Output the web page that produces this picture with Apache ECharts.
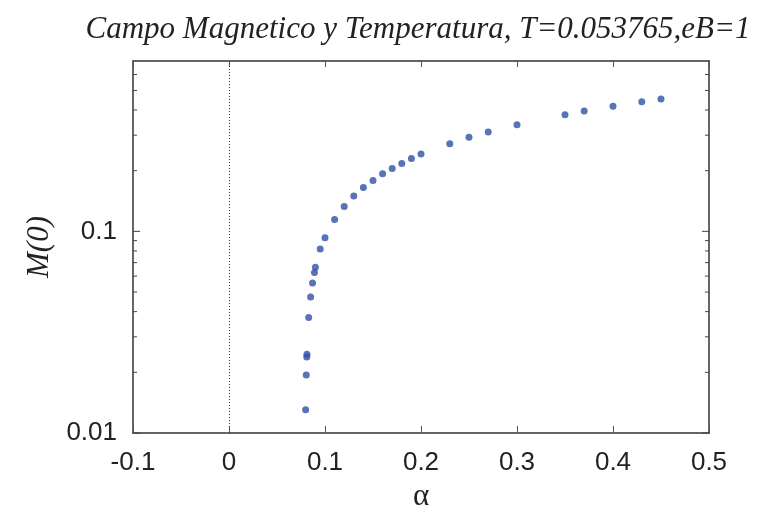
<!DOCTYPE html>
<html>
<head>
<meta charset="utf-8">
<script src="https://cdn.jsdelivr.net/npm/echarts@6/dist/echarts.min.js"></script>
<style>
  html, body { margin: 0; padding: 0; background: #fff; }
  #main { width: 761px; height: 514px; }
</style>
</head>
<body>
<div id="main"></div>
<script>
// alpha values and M(0)
var alphaVals = [0.0798, 0.0805, 0.081, 0.0812, 0.083, 0.085, 0.087, 0.089, 0.090, 0.095,
  0.10, 0.11, 0.12, 0.13, 0.14, 0.15, 0.16, 0.17, 0.18, 0.19, 0.20,
  0.23, 0.25, 0.27, 0.30, 0.35, 0.37, 0.40, 0.43, 0.45];
var mVals = [0.01305, 0.0194, 0.0238, 0.0246, 0.0374, 0.0473, 0.0555, 0.0626, 0.0663, 0.0818,
  0.093, 0.1147, 0.133, 0.150, 0.165, 0.179, 0.193, 0.205, 0.217, 0.230, 0.242,
  0.272, 0.293, 0.311, 0.338, 0.379, 0.396, 0.417, 0.440, 0.454];

var yMajorTicks = [0.01, 0.1];
var yMinorTicks = [0.02, 0.03, 0.04, 0.05, 0.06, 0.07, 0.08, 0.09, 0.2, 0.3, 0.4, 0.5, 0.6];
var xMin = -0.1, xMax = 0.5;
var yMin = 0.01, yMax = 0.7;

var points = [];
for (var i = 0; i < alphaVals.length; i++) {
  points.push([alphaVals[i], mVals[i]]);
}
var tickData = [];
yMajorTicks.forEach(function (v) { tickData.push([v, 7]); });
yMinorTicks.forEach(function (v) { tickData.push([v, 4]); });

var myChart = echarts.init(document.getElementById("main"));
myChart.setOption({
  animation: false,
  title: {
    text: "Campo Magnetico y Temperatura, T=0.053765,eB=1",
    left: 413,
    textAlign: "center",
    top: 9,
    textStyle: {
      fontFamily: "Liberation Serif",
      fontStyle: "italic",
      fontWeight: "normal",
      fontSize: 31,
      color: "#222"
    }
  },
  grid: {
    left: 133,
    right: 52,
    top: 61,
    bottom: 81,
    outerBoundsMode: "none"
  },
  xAxis: [
    {
      type: "value",
      min: xMin,
      max: xMax,
      interval: 0.1,
      name: "α",
      nameLocation: "middle",
      nameGap: 46,
      nameTextStyle: { fontFamily: "Liberation Serif", fontSize: 31, color: "#222" },
      axisLine: { onZero: false, lineStyle: { color: "#333", width: 1.5 } },
      axisTick: { inside: true, length: 7, lineStyle: { color: "#555" } },
      axisLabel: {
        margin: 17,
        fontFamily: "Liberation Sans",
        fontSize: 26,
        color: "#222",
        formatter: function (v) { return String(Math.round(v * 10) / 10); }
      },
      splitLine: { show: false }
    },
    {
      type: "value",
      position: "top",
      min: xMin,
      max: xMax,
      interval: 0.1,
      axisLine: { onZero: false, lineStyle: { color: "#333", width: 1.5 } },
      axisTick: { inside: true, length: 6, lineStyle: { color: "#555" } },
      axisLabel: { show: false },
      splitLine: { show: false }
    }
  ],
  yAxis: [
    {
      type: "log",
      logBase: 10,
      min: yMin,
      max: yMax,
      name: "M(0)",
      nameLocation: "middle",
      nameGap: 77,
      nameTextStyle: {
        fontFamily: "Liberation Serif",
        fontStyle: "italic",
        fontSize: 31,
        color: "#222"
      },
      axisLine: { onZero: false, lineStyle: { color: "#333", width: 1.5 } },
      axisTick: { show: false },
      axisLabel: {
        margin: 16,
        fontFamily: "Liberation Sans",
        fontSize: 26,
        color: "#222",
        formatter: function (v) {
          for (var k = 0; k < yMajorTicks.length; k++) {
            if (Math.abs(v - yMajorTicks[k]) / yMajorTicks[k] < 1e-6) return String(yMajorTicks[k]);
          }
          return "";
        }
      },
      splitLine: { show: false }
    },
    {
      type: "log",
      logBase: 10,
      position: "right",
      min: yMin,
      max: yMax,
      axisLine: { onZero: false, lineStyle: { color: "#333", width: 1.5 } },
      axisTick: { show: false },
      axisLabel: { show: false },
      splitLine: { show: false }
    }
  ],
  series: [
    {
      // y ticks on both sides (log axis needs 2..9 minor ticks)
      type: "custom",
      xAxisIndex: 0,
      yAxisIndex: 0,
      silent: true,
      data: tickData,
      renderItem: function (params, api) {
        var v = api.value(0);
        var len = api.value(1);
        var l = api.coord([xMin, v]);
        var r = api.coord([xMax, v]);
        var st = { stroke: "#444", lineWidth: 1 };
        return {
          type: "group",
          children: [
            { type: "line", shape: { x1: l[0], y1: l[1], x2: l[0] + len, y2: l[1] }, style: st },
            { type: "line", shape: { x1: r[0], y1: r[1], x2: r[0] - len, y2: r[1] }, style: st }
          ]
        };
      },
      z: 1
    },
    {
      type: "scatter",
      xAxisIndex: 0,
      yAxisIndex: 0,
      data: points,
      symbol: "circle",
      symbolSize: 7,
      itemStyle: { color: "#3050a8" },
      markLine: {
        silent: true,
        symbol: "none",
        label: { show: false },
        lineStyle: { color: "#333", type: [1, 2], width: 1 },
        data: [{ xAxis: 0 }]
      },
      z: 3
    }
  ]
});
</script>
</body>
</html>
